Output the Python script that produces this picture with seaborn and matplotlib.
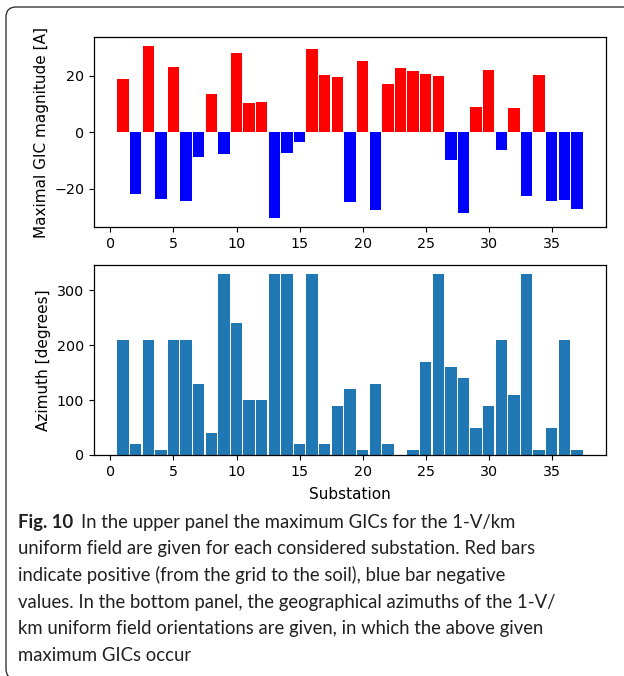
import numpy as np
import pandas as pd
import matplotlib
matplotlib.use("Agg")
import matplotlib.pyplot as plt
import seaborn as sns
from matplotlib.patches import FancyBboxPatch
from matplotlib.transforms import IdentityTransform

substations = list(range(1, 38))
gic = [18.8, -22.0, 30.6, -23.8, 23.1, -24.5, -8.9, 13.5, -7.9, 28.0,
       10.4, 10.8, -30.5, -7.5, -3.6, 29.4, 20.2, 19.5, -24.8, 25.2,
       -27.6, 17.1, 22.7, 21.6, 20.6, 19.9, -10.0, -28.7, 8.9, 22.0,
       -6.5, 8.6, -22.7, 20.2, -24.5, -24.1, -27.3]
azimuth = [210, 20, 210, 10, 210, 210, 130, 40, 330, 240,
           100, 100, 330, 330, 20, 330, 20, 90, 120, 10,
           130, 20, 0, 10, 170, 330, 160, 140, 50, 90,
           210, 110, 330, 10, 50, 210, 10]

caption_lines = [
    "In the upper panel the maximum GICs for the 1-V/km",
    "uniform field are given for each considered substation. Red bars",
    "indicate positive (from the grid to the soil), blue bar negative",
    "values. In the bottom panel, the geographical azimuths of the 1-V/",
    "km uniform field orientations are given, in which the above given",
    "maximum GICs occur",
]

df = pd.DataFrame({"sub": substations, "gic": gic, "az": azimuth})
df["sign"] = np.where(df["gic"] >= 0, "pos", "neg")

W, H = 624, 676
fig = plt.figure(figsize=(W / 100, H / 100), dpi=100)
plt.rcParams["font.family"] = ["DejaVu Sans"]

def ax_rect(l, t, r, b):
    return [l / W, 1 - b / H, (r - l) / W, (b - t) / H]

ax1 = fig.add_axes(ax_rect(94, 37, 606, 227))
ax2 = fig.add_axes(ax_rect(94, 265, 606, 455))

sns.barplot(data=df, x="sub", y="gic", hue="sign",
            palette={"pos": "red", "neg": "blue"}, native_scale=True,
            dodge=False, width=0.9, saturation=1, errorbar=None,
            legend=False, ax=ax1, linewidth=0)
sns.barplot(data=df, x="sub", y="az", color="#1f77b4", native_scale=True,
            width=0.9, saturation=1, errorbar=None, ax=ax2, linewidth=0)

for ax in (ax1, ax2):
    ax.set_xlim(-1.3, 39.3)
    ax.set_xticks(range(0, 40, 5))
    ax.tick_params(labelsize=10.3)
    for s in ax.spines.values():
        s.set_linewidth(0.9)

ax1.set_ylim(-33.6, 33.7)
ax1.set_yticks([-20, 0, 20])
ax2.set_ylim(0, 346.5)
ax2.set_yticks([0, 100, 200, 300])

ax1.set_xlabel("")
ax1.set_ylabel("Maximal GIC magnitude [A]", fontsize=11)
ax2.set_xlabel("Substation", fontsize=11, labelpad=6)
ax2.set_ylabel("Azimuth [degrees]", fontsize=11)

# Caption frame
frame = FancyBboxPatch((6, -3), 640, H - 7 + 3,
                       boxstyle="round,pad=0,rounding_size=10",
                       transform=IdentityTransform(), fill=False,
                       edgecolor="#222222", linewidth=0.9)
fig.add_artist(frame)

# Caption text
cap_font = ["Lato", "DejaVu Sans"]
renderer = fig.canvas.get_renderer()
probe = fig.text(0, 0, caption_lines[1], fontsize=13, family=cap_font)
wpx = probe.get_window_extent(renderer).width
probe.remove()
cap_size = 13 * 517 / wpx

baselines = [527.7 + i * 26.67 for i in range(len(caption_lines))]
x0 = 18 / W
bold = fig.text(x0, 1 - baselines[0] / H, "Fig. 10", fontsize=cap_size,
                family=cap_font, fontweight="bold", va="baseline",
                color="#231f20")
bw = bold.get_window_extent(renderer).width
fig.text((18 + bw + cap_size * 0.6) / W, 1 - baselines[0] / H,
         caption_lines[0], fontsize=cap_size, family=cap_font,
         va="baseline", color="#231f20")
for line, bl in zip(caption_lines[1:], baselines[1:]):
    fig.text(x0, 1 - bl / H, line, fontsize=cap_size, family=cap_font,
             va="baseline", color="#231f20")

fig.savefig("out.png", dpi=100)
